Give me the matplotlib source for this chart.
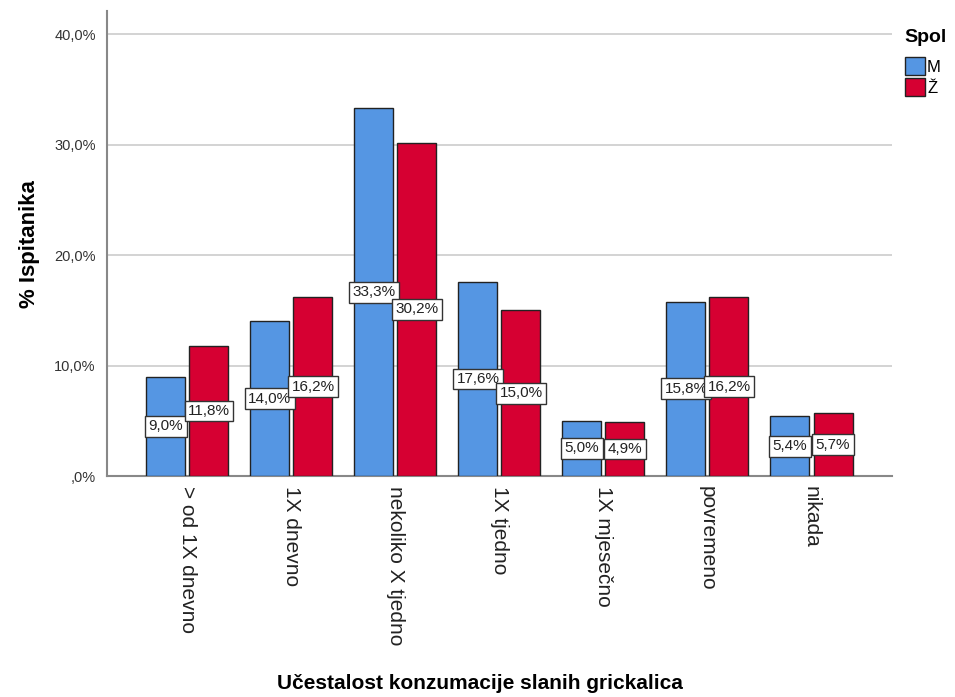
import matplotlib
matplotlib.use("Agg")
import matplotlib.pyplot as plt
import numpy as np
from matplotlib.patches import Patch

categories = ["> od 1X dnevno", "1X dnevno", "nekoliko X tjedno", "1X tjedno",
              "1X mjesečno", "povremeno", "nikada"]
series_names = ["M", "Ž"]
values_m = [9.0, 14.0, 33.3, 17.6, 5.0, 15.8, 5.4]
values_z = [11.8, 16.2, 30.2, 15.0, 4.9, 16.2, 5.7]
yticks = [0, 10, 20, 30, 40]
ytick_labels = [",0%", "10,0%", "20,0%", "30,0%", "40,0%"]

plt.rcParams['font.family'] = ['Liberation Sans', 'DejaVu Sans']

fig = plt.figure(figsize=(9.55, 6.97), dpi=100)
ax = fig.add_axes([0.112, 0.317, 0.822, 0.667])

x = np.arange(len(categories))
w = 0.375
off = 0.207
colors = ["#5596E3", "#D60032"]
for vals, sign, c in [(values_m, -1, colors[0]), (values_z, 1, colors[1])]:
    ax.bar(x + sign * off, vals, width=w, color=c, edgecolor="#222222",
           linewidth=1.0, zorder=3)
    for xi, v in zip(x, vals):
        ax.text(xi + sign * off, v / 2, f"{v:.1f}%".replace(".", ","),
                ha="center", va="center", fontsize=11, color="#222222", zorder=5,
                bbox=dict(boxstyle="square,pad=0.22", facecolor="white",
                          edgecolor="#333333", linewidth=1.0))

ax.set_xlim(-0.774, 6.774)
ax.set_ylim(0, 42.1)
ax.set_yticks(yticks)
ax.set_yticklabels(ytick_labels, fontsize=10.5, color="#333333")
ax.set_xticks(x)
ax.set_xticklabels(categories, rotation=270, fontsize=15, color="#222222",
                   va="top", ha="center")
ax.tick_params(axis="both", length=0)
ax.tick_params(axis="x", pad=7)
ax.tick_params(axis="y", pad=8)
ax.grid(axis="y", color="#CCCCCC", linewidth=1.2, zorder=0)
for s in ["top", "right"]:
    ax.spines[s].set_visible(False)
for s in ["left", "bottom"]:
    ax.spines[s].set_color("#888888")
    ax.spines[s].set_linewidth(1.5)

ax.set_ylabel("% Ispitanika", fontsize=16, fontweight="bold", labelpad=10)
fig.text(0.503, 0.02, "Učestalost konzumacije slanih grickalica", ha="center",
         va="center", fontsize=15, fontweight="bold")

handles = [Patch(facecolor=colors[0], edgecolor="#222222", label=series_names[0]),
           Patch(facecolor=colors[1], edgecolor="#222222", label=series_names[1])]
leg = fig.legend(handles=handles, title="Spol", loc="upper left",
                 bbox_to_anchor=(0.935, 0.975), frameon=False, fontsize=12,
                 title_fontproperties={"weight": "bold", "size": 14},
                 handlelength=1.2, handleheight=1.3, handletextpad=0.15,
                 labelspacing=0.15, borderpad=0.2)
leg._legend_box.align = "left"
leg._legend_box.sep = 8

fig.savefig("out.png", dpi=100)
